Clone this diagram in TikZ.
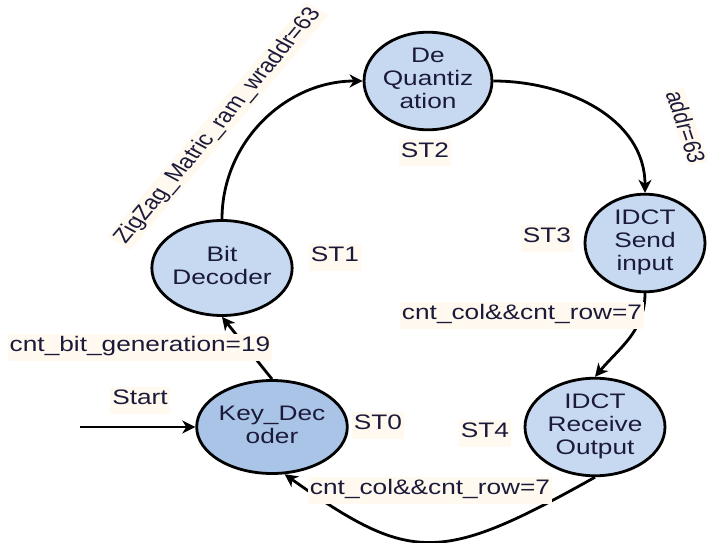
\documentclass[tikz,border=0pt]{standalone}
\usepackage{fontspec}
\setmainfont{Liberation Sans}
\usetikzlibrary{shapes.geometric,arrows.meta}

\definecolor{statefill}{HTML}{C6D9F0}
\definecolor{startfill}{HTML}{A9C4E6}
\definecolor{labelfill}{HTML}{FFF9F0}
\definecolor{inkcol}{HTML}{1C1A3A}

% horizontally widened text, stacked lines
\newcommand\wtxt[1]{\scalebox{1.25}[1]{\begin{tabular}{@{}c@{}}#1\end{tabular}}}

\tikzset{
  fsm/.style={ellipse, draw=black, line width=2.8pt, inner sep=0pt,
    text=inkcol, font=\fontsize{21}{23}\selectfont},
  cond/.style={fill=labelfill, inner sep=2pt, text=inkcol,
    font=\fontsize{21}{23}\selectfont},
  trans/.style={line width=2.8pt, -{Stealth[length=13pt,width=13pt,inset=4pt]}},
}

\begin{document}
\begin{tikzpicture}[x=1pt,y=1pt]
\useasboundingbox (0,0) rectangle (707,542);

% states
\node[fsm, fill=statefill, minimum width=120pt, minimum height=87pt] (dq) at (428,461) {\wtxt{De\\Quantiz\\ation}};
\node[fsm, fill=statefill, minimum width=120pt, minimum height=96pt] (is) at (645,299) {\wtxt{IDCT\\Send\\input}};
\node[fsm, fill=statefill, minimum width=137pt, minimum height=95pt] (bd) at (222,274) {\wtxt{Bit\\Decoder}};
\node[fsm, fill=startfill, minimum width=137pt, minimum height=93pt] (kd) at (272,115) {\wtxt{Key\_Dec\\oder}};
\node[fsm, fill=statefill, minimum width=140pt, minimum height=97pt] (ir) at (595,115) {\wtxt{IDCT\\Receive\\Output}};

% state numbers
\node[cond] (st0) at (378,117) {\wtxt{ST0}};
\node[cond] (st1) at (335,285) {\wtxt{ST1}};
\node[cond] (st2) at (425,389) {\wtxt{ST2}};
\node[cond] (st3) at (547,304) {\wtxt{ST3}};
\node[cond] (st4) at (485,109) {\wtxt{ST4}};

% entry
\coordinate (in) at (80,115);
\draw[trans] (in) -- (kd.west);
\node[cond] (startlbl) at (140,142) {\wtxt{Start}};

% transitions
\draw[trans] (kd.north) -- (bd.south);
\draw[trans] (bd.north) to[out=90,in=180] (dq.west);
\draw[trans] (dq.east) to[out=0,in=90] (is.north);
\draw[trans] (is.south) to[out=-90,in=50] (ir.north);
\draw[trans] (ir.south) .. controls (440,-22) and (411,-22) .. (kd.-75);

% transition conditions
\node[cond] (c01) at (140,195) {\wtxt{cnt\_bit\_generation=19}};
\node[cond, font=\fontsize{20}{22}\selectfont, shift={(218,416)}, xscale=1.25, rotate=56, transform shape] (c12) {ZigZag\_Matric\_ram\_wraddr=63};
\node[cond, font=\fontsize{20}{22}\selectfont, inner sep=1pt, shift={(686,415)}, xscale=1.25, rotate=-75, transform shape] (c23) {addr=63};
\node[cond] (c34) at (522,227) {\wtxt{cnt\_col\&\&cnt\_row=7}};
\node[cond] (c40) at (430,52) {\wtxt{cnt\_col\&\&cnt\_row=7}};
\end{tikzpicture}
\end{document}
